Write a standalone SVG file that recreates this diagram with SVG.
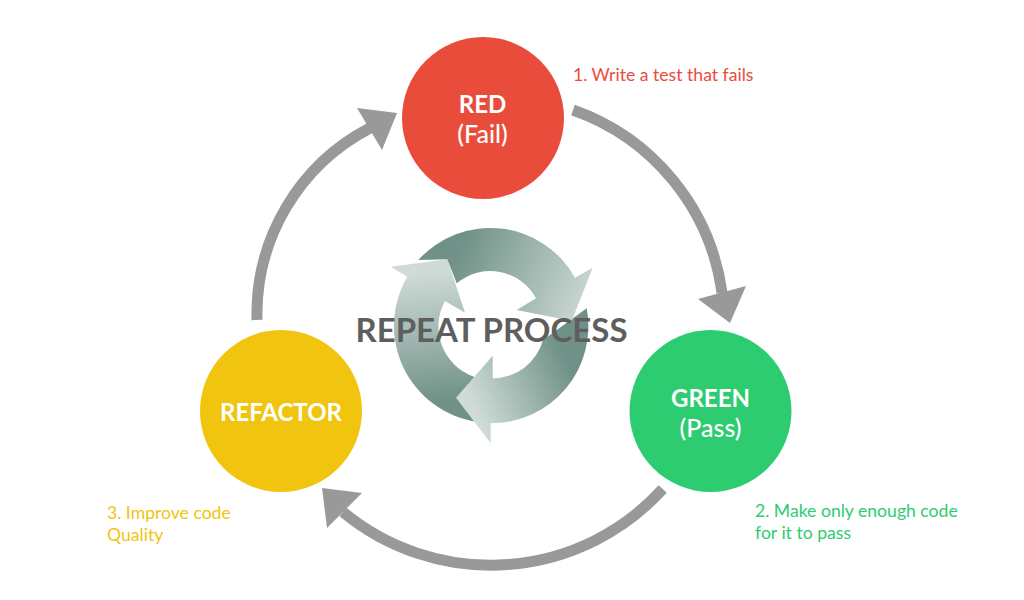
<svg xmlns="http://www.w3.org/2000/svg" width="1024" height="600" viewBox="0 0 1024 600">
<style>
text{font-family:Lato,"Open Sans",sans-serif}
.n{font-size:24px;font-weight:700;fill:#fff;text-anchor:middle}
.s{font-size:25px;font-weight:500;fill:#fff;text-anchor:middle}
.l{font-size:17.600px}
.c{fill:none;stroke:#999;stroke-width:11}
.h{fill:#999}
</style>
<defs>
<linearGradient id="ga" gradientUnits="userSpaceOnUse" x1="455" y1="255" x2="590" y2="312"><stop offset="0" stop-color="#6f9187"/><stop offset="1" stop-color="#cfdbd8"/></linearGradient>
<linearGradient id="gb" gradientUnits="userSpaceOnUse" x1="568" y1="362" x2="473" y2="405"><stop offset="0" stop-color="#6f9187"/><stop offset="1" stop-color="#cfdbd8"/></linearGradient>
<linearGradient id="gc" gradientUnits="userSpaceOnUse" x1="440" y1="402" x2="427" y2="272"><stop offset="0" stop-color="#6f9187"/><stop offset="1" stop-color="#cfdbd8"/></linearGradient>
</defs>
<rect width="1024" height="600" fill="#fff"/>
<g id="connectors">
<path class="c" d="M573 110A226 226 0 0 1 722 293"/>
<polygon class="h" points="698,299 746,286 730,323"/>
<path class="c" d="M662.700 489A232 232 0 0 1 343 512"/>
<polygon class="h" points="322,488 362,493 327,528"/>
<path class="c" d="M257 320A210 210 0 0 1 370 128"/>
<polygon class="h" points="357,108 397,113 382,150"/>
</g>
<g id="repeat-cycle">
<path fill="url(#gc)" d="M476.700 421.700A97 97 0 0 1 407.300 276.700L390.700 266.700L447.300 259.300L465 312.700L445 301A53 53 0 0 0 474 376.700Z"/>
<path fill="url(#gb)" d="M586.700 308.300A97 97 0 0 1 490.700 423.300L490.700 443.300L456 397.700L492.700 355.700L492.700 378.300A52 52 0 0 0 543 340Z"/>
<path fill="url(#ga)" d="M418.300 260A97 97 0 0 1 575 277.700L592.700 267.700L571.700 321L516.700 310L536 298.300A52 52 0 0 0 456.700 283.300L447.300 259.300Z"/>
<text x="491.500" y="341.500" font-size="33" font-weight="700" fill="#5e5e5e" text-anchor="middle">REPEAT PROCESS</text>
</g>
<g id="red">
<circle cx="483" cy="118" r="81" fill="#ea4c3c"/>
<text class="n" x="482.500" y="112.500">RED</text>
<text class="s" x="482.500" y="142.500">(Fail)</text>
<text class="l" x="573" y="81" fill="#ea4c3c">1. Write a test that fails</text>
</g>
<g id="green">
<circle cx="710.500" cy="411" r="81" fill="#2ecc71"/>
<text class="n" x="710.500" y="406.500">GREEN</text>
<text class="s" x="710.500" y="436.500">(Pass)</text>
<text class="l" x="755" y="517" fill="#2ecc71">2. Make only enough code</text>
<text class="l" x="755" y="539" fill="#2ecc71">for it to pass</text>
</g>
<g id="refactor">
<circle cx="281" cy="411" r="81" fill="#f1c40f"/>
<text class="n" x="281" y="420.500">REFACTOR</text>
<text class="l" x="107" y="519" fill="#f1c40f">3. Improve code</text>
<text class="l" x="107" y="541" fill="#f1c40f">Quality</text>
</g>
</svg>
